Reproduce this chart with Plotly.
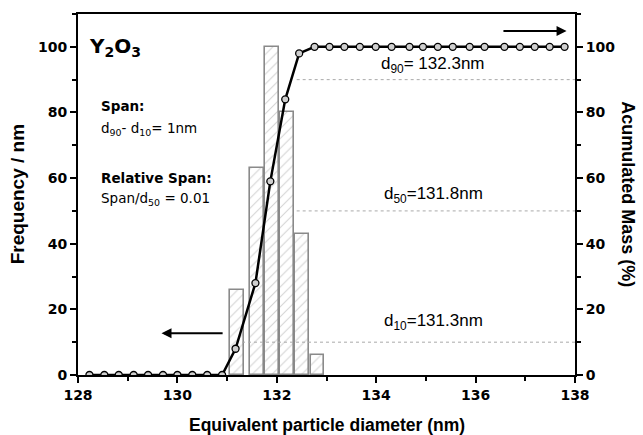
import plotly.graph_objects as go

# Histogram (frequency) data
bar_x = [131.2, 131.6, 131.9, 132.2, 132.5, 132.82]
bar_h = [26, 63, 100, 80, 43, 6]
bar_w = [0.28, 0.28, 0.28, 0.28, 0.28, 0.27]

# Accumulated mass curve
cum_x = [128.23, 128.53, 128.82, 129.12, 129.41, 129.71, 130.0, 130.3, 130.6, 130.9,
         131.17, 131.57, 131.87, 132.17, 132.45,
         132.76, 133.06, 133.36, 133.67, 133.99, 134.31, 134.67, 134.94, 135.24,
         135.54, 135.88, 136.18, 136.58, 136.89, 137.19, 137.49, 137.79]
cum_y = [0, 0, 0, 0, 0, 0, 0, 0, 0, 0,
         8, 28, 59, 84, 98,
         100, 100, 100, 100, 100, 100, 100, 100, 100,
         100, 100, 100, 100, 100, 100, 100, 100]

# Percentile reference lines (value, start x)
pct_levels = [90, 50, 10]
pct_start = [132.4, 132.4, 131.3]
pct_labels = ["d<sub>90</sub>= 132.3nm", "d<sub>50</sub>=131.8nm", "d<sub>10</sub>=131.3nm"]
pct_label_y = [94.5, 55, 16]

x_ticks = [128, 130, 132, 134, 136, 138]
y_ticks = [0, 20, 40, 60, 80, 100]

FONT = "Liberation Sans, Arial, sans-serif"
DFONT = "DejaVu Sans, Verdana, sans-serif"

fig = go.Figure()

fig.add_trace(go.Bar(
    x=bar_x, y=bar_h, width=bar_w,
    marker=dict(color="white",
                line=dict(color="#8a8a8a", width=1.6),
                pattern=dict(shape="/", fgcolor="#a8a8a8", bgcolor="white",
                             size=7, solidity=0.15)),
    showlegend=False,
))

fig.add_trace(go.Scatter(
    x=cum_x, y=cum_y, yaxis="y2", mode="lines+markers",
    line=dict(color="black", width=2.5),
    marker=dict(symbol="circle", size=7, color="#cfcfcf",
                line=dict(color="black", width=1.3)),
    showlegend=False,
))

for lvl, xs in zip(pct_levels, pct_start):
    fig.add_shape(type="line", xref="x", yref="y", x0=xs, x1=138, y0=lvl, y1=lvl,
                  line=dict(color="#aaaaaa", width=1, dash="dot"), layer="above")

for lab, ly in zip(pct_labels, pct_label_y):
    fig.add_annotation(x=135.15, y=ly, xref="x", yref="y", text=lab, showarrow=False,
                       font=dict(family=FONT, size=17, color="black"))

# arrows
fig.add_annotation(x=129.68, y=12.7, ax=130.94, ay=12.7, xref="x", yref="y",
                   axref="x", ayref="y", text="", showarrow=True,
                   arrowhead=2, arrowsize=1, arrowwidth=2, arrowcolor="black")
fig.add_annotation(x=137.83, y=104.8, ax=136.53, ay=104.8, xref="x", yref="y",
                   axref="x", ayref="y", text="", showarrow=True,
                   arrowhead=2, arrowsize=1, arrowwidth=2, arrowcolor="black")

# texts
fig.add_annotation(x=128.18, y=100, xref="x", yref="y", xanchor="left", yanchor="middle",
                   text="Y<sub>2</sub>O<sub>3</sub>", showarrow=False,
                   font=dict(family=DFONT, size=20, color="black", weight="bold"))
fig.add_annotation(x=128.42, y=82, xref="x", yref="y", xanchor="left",
                   text="Span:", showarrow=False,
                   font=dict(family=DFONT, size=13.5, color="black", weight="bold"))
fig.add_annotation(x=128.42, y=75, xref="x", yref="y", xanchor="left",
                   text="d<sub>90</sub>- d<sub>10</sub>= 1nm", showarrow=False,
                   font=dict(family=DFONT, size=13.5, color="black"))
fig.add_annotation(x=128.42, y=60, xref="x", yref="y", xanchor="left",
                   text="Relative Span:", showarrow=False,
                   font=dict(family=DFONT, size=13.5, color="black", weight="bold"))
fig.add_annotation(x=128.42, y=53.5, xref="x", yref="y", xanchor="left",
                   text="Span/d<sub>50</sub> = 0.01", showarrow=False,
                   font=dict(family=DFONT, size=13.5, color="black"))

# axis titles
fig.add_annotation(x=-0.121, y=0.5, xref="paper", yref="paper", textangle=-90,
                   xanchor="center", yanchor="middle",
                   text="Frequency / nm", showarrow=False,
                   font=dict(family=FONT, size=19, color="black", weight="bold"))
fig.add_annotation(x=1.107, y=0.5, xref="paper", yref="paper", textangle=90,
                   xanchor="center", yanchor="middle",
                   text="Acumulated Mass (%)", showarrow=False,
                   font=dict(family=FONT, size=18, color="black", weight="bold"))
fig.add_annotation(x=0.5, y=-0.138, xref="paper", yref="paper", yanchor="middle",
                   text="Equivalent particle diameter (nm)", showarrow=False,
                   font=dict(family=FONT, size=17.5, color="black", weight="bold"))

tickfont = dict(family=DFONT, size=14, color="black", weight="bold")

fig.update_layout(
    width=643, height=435,
    margin=dict(l=78, r=68, t=12, b=60),
    plot_bgcolor="white", paper_bgcolor="white",
    bargap=0,
    xaxis=dict(range=[128, 138], tickvals=x_ticks, ticks="outside", ticklen=6,
               tickwidth=1.5, tickcolor="black", showline=True, linecolor="black",
               linewidth=2, mirror=True, showgrid=False, zeroline=False,
               tickfont=tickfont,
               minor=dict(dtick=1, tick0=128, ticks="outside", ticklen=4,
                          tickwidth=1.5, tickcolor="black", showgrid=False)),
    yaxis=dict(range=[0, 110], tickvals=y_ticks, ticks="outside", ticklen=6,
               tickwidth=1.5, tickcolor="black", showline=True, linecolor="black",
               linewidth=2, showgrid=False, zeroline=False, tickfont=tickfont,
               minor=dict(dtick=10, tick0=0, ticks="outside", ticklen=4,
                          tickwidth=1.5, tickcolor="black", showgrid=False)),
    yaxis2=dict(range=[0, 110], tickvals=y_ticks, ticks="outside", ticklen=6,
                tickwidth=1.5, tickcolor="black", showline=True, linecolor="black",
                linewidth=2, showgrid=False, zeroline=False, tickfont=tickfont,
                overlaying="y", side="right",
                minor=dict(dtick=10, tick0=0, ticks="outside", ticklen=4,
                           tickwidth=1.5, tickcolor="black", showgrid=False)),
)

fig.write_html("out.html")
